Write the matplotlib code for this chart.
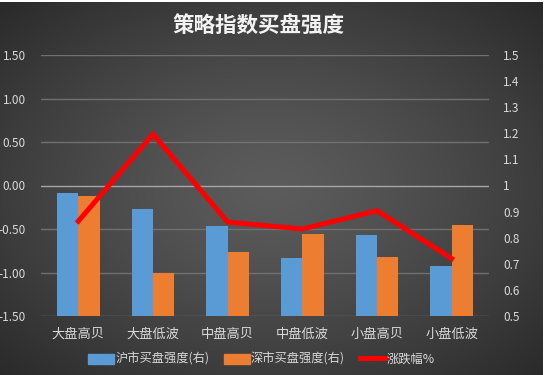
import numpy as np
import matplotlib
matplotlib.use("Agg")
import matplotlib.pyplot as plt
from matplotlib.ticker import FuncFormatter, MultipleLocator
from matplotlib.patches import Patch
from matplotlib.lines import Line2D

plt.rcParams['font.family'] = ['Noto Sans CJK SC', 'DejaVu Sans']
plt.rcParams['axes.unicode_minus'] = False

# data
categories = ["大盘高贝", "大盘低波", "中盘高贝", "中盘低波", "小盘高贝", "小盘低波"]
sh_strength = [0.97, 0.91, 0.845, 0.722, 0.81, 0.69]   # 沪市买盘强度(右)
sz_strength = [0.96, 0.665, 0.745, 0.814, 0.726, 0.849]  # 深市买盘强度(右)
pct_change = [-0.41, 0.59, -0.42, -0.50, -0.29, -0.84]  # 涨跌幅%

W, H = 547, 375
fig = plt.figure(figsize=(W / 100, H / 100), dpi=100)
fig.patch.set_facecolor('white')

# radial gradient background
bg = fig.add_axes([0, 0, 543 / W, 373 / H])
bg.set_axis_off()
yy, xx = np.mgrid[-1:1:300j, -1:1:440j]
r = np.sqrt((xx * 0.95) ** 2 + (yy * 0.95) ** 2) / np.sqrt(2)
r = np.clip(r, 0, 1)
c0, c1 = 0.36, 0.15
img = c0 + (c1 - c0) * r ** 1.3
bg.imshow(np.dstack([img, img, img]), aspect='auto', extent=[0, 1, 0, 1])

txt = '#D9D9D9'
ax = fig.add_axes([41 / W, (H - 316) / H, 448 / W, 261 / H])
ax.patch.set_visible(False)
ax2 = ax.twinx()
ax2.patch.set_visible(False)

x = np.arange(len(categories))
w = 0.285
ax2.bar(x - w / 2, sh_strength, w, color='#5B9BD5', zorder=3)
ax2.bar(x + w / 2, sz_strength, w, color='#ED7D31', zorder=3)
ax2.plot(x, pct_change, color='#FF0000', lw=3.6, zorder=5,
         transform=ax.transData, solid_joinstyle='miter')

ax.set_ylim(-1.5, 1.5)
ax2.set_ylim(0.5, 1.5)
ax.set_xlim(-0.5, len(categories) - 0.5)
ax.yaxis.set_major_locator(MultipleLocator(0.5))
ax.yaxis.set_major_formatter(FuncFormatter(lambda v, p: f"{v:.2f}"))
ax2.yaxis.set_major_locator(MultipleLocator(0.1))
ax2.yaxis.set_major_formatter(FuncFormatter(lambda v, p: f"{round(v, 1):g}"))
ax.set_xticks(x)
ax.set_xticklabels(categories)

for t in ax.get_yticks():
    if -1.5 <= t <= 1.5:
        col = '#A6A6A6' if abs(t) < 1e-9 else '#707070'
        ax.axhline(t, color=col, lw=1.0, zorder=1)

for a in (ax, ax2):
    for s in a.spines.values():
        s.set_visible(False)
ax.tick_params(axis='y', length=0, pad=11, labelsize=8.5, labelcolor=txt)
ax.tick_params(axis='x', length=0, pad=8.5, labelsize=9.5, labelcolor=txt)
ax2.tick_params(axis='y', length=0, pad=10, labelsize=8.5, labelcolor=txt)

fig.text(0.472, 0.93, "策略指数买盘强度", ha='center', va='center',
         color='#F2F2F2', fontsize=15.5, fontweight='bold')

handles = [Patch(color='#5B9BD5'), Patch(color='#ED7D31'),
           Line2D([0], [0], color='#FF0000', lw=3.6)]
labels = ["沪市买盘强度(右)", "深市买盘强度(右)", "涨跌幅%"]
fig.legend(handles, labels, loc='center', bbox_to_anchor=(0.478, 0.042), ncol=3,
           frameon=False, fontsize=8.8, labelcolor=txt, handlelength=2.1,
           handleheight=0.9, handletextpad=0.1, columnspacing=1.2)

fig.savefig("out.png", dpi=100, facecolor=fig.get_facecolor())
